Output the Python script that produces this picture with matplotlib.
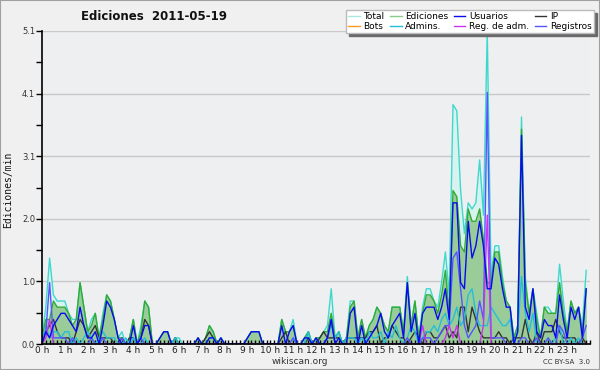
import matplotlib
matplotlib.use('Agg')
import matplotlib.pyplot as plt
import numpy as np
from matplotlib.lines import Line2D
from matplotlib.patches import Rectangle

# ---- data: edits per minute, 10-minute bins, 2011-05-19 ----
total = [0.1, 0.6, 1.4, 0.8, 0.7, 0.7,  0.7, 0.5, 0.4, 0.4, 1.0, 0.6,
         0.2, 0.4, 0.5, 0.1, 0.5, 0.8,  0.7, 0.4, 0.1, 0.2, 0.0, 0.1,
         0.4, 0.0, 0.3, 0.7, 0.6, 0.0,  0.0, 0.1, 0.2, 0.2, 0.0, 0.1,
         0.1, 0.0, 0.0, 0.0, 0.0, 0.1,  0.0, 0.1, 0.3, 0.2, 0.0, 0.1,
         0.0, 0.0, 0.0, 0.0, 0.0, 0.0,  0.1, 0.2, 0.2, 0.2, 0.0, 0.0,
         0.0, 0.0, 0.0, 0.4, 0.2, 0.2,  0.4, 0.0, 0.0, 0.1, 0.2, 0.0,
         0.1, 0.1, 0.2, 0.3, 0.9, 0.1,  0.2, 0.0, 0.1, 0.7, 0.7, 0.1,
         0.4, 0.1, 0.3, 0.4, 0.6, 0.5,  0.3, 0.2, 0.6, 0.6, 0.6, 0.2,
         1.1, 0.3, 0.7, 0.1, 0.6, 0.9,  0.9, 0.7, 0.6, 1.0, 1.5, 0.8,
         3.9, 3.8, 2.5, 1.8, 2.3, 2.2,  2.3, 3.0, 2.1, 5.1, 1.1, 1.6,
         1.6, 1.1, 0.7, 0.6, 0.1, 0.3,  3.7, 1.1, 0.5, 0.9, 0.5, 0.1,
         0.6, 0.6, 0.5, 0.5, 1.3, 0.7,  0.2, 0.7, 0.5, 0.6, 0.3, 1.2]

edits = [0.1, 0.4, 0.4, 0.7, 0.6, 0.6,  0.6, 0.5, 0.3, 0.4, 1.0, 0.6,
         0.2, 0.3, 0.5, 0.1, 0.4, 0.8,  0.7, 0.4, 0.1, 0.1, 0.0, 0.1,
         0.4, 0.0, 0.2, 0.7, 0.6, 0.0,  0.0, 0.1, 0.2, 0.2, 0.0, 0.1,
         0.0, 0.0, 0.0, 0.0, 0.0, 0.1,  0.0, 0.1, 0.3, 0.2, 0.0, 0.1,
         0.0, 0.0, 0.0, 0.0, 0.0, 0.0,  0.1, 0.2, 0.2, 0.2, 0.0, 0.0,
         0.0, 0.0, 0.0, 0.4, 0.2, 0.2,  0.3, 0.0, 0.0, 0.1, 0.2, 0.0,
         0.1, 0.1, 0.2, 0.2, 0.5, 0.1,  0.2, 0.0, 0.1, 0.6, 0.7, 0.1,
         0.4, 0.1, 0.3, 0.4, 0.6, 0.5,  0.3, 0.2, 0.6, 0.6, 0.6, 0.2,
         1.0, 0.3, 0.7, 0.1, 0.5, 0.8,  0.8, 0.7, 0.5, 0.8, 1.2, 0.5,
         2.5, 2.4, 1.6, 1.5, 2.2, 2.0,  2.0, 2.2, 1.7, 1.0, 1.0, 1.5,
         1.5, 1.0, 0.7, 0.6, 0.1, 0.3,  3.5, 1.0, 0.5, 0.9, 0.4, 0.1,
         0.6, 0.5, 0.5, 0.5, 1.0, 0.5,  0.2, 0.7, 0.5, 0.6, 0.2, 0.9]

users = [0.0, 0.2, 0.1, 0.3, 0.4, 0.5,  0.5, 0.4, 0.3, 0.2, 0.6, 0.3,
         0.1, 0.1, 0.2, 0.0, 0.3, 0.7,  0.6, 0.4, 0.1, 0.0, 0.0, 0.0,
         0.3, 0.0, 0.1, 0.3, 0.3, 0.0,  0.0, 0.1, 0.2, 0.2, 0.0, 0.0,
         0.0, 0.0, 0.0, 0.0, 0.0, 0.1,  0.0, 0.0, 0.1, 0.1, 0.0, 0.1,
         0.0, 0.0, 0.0, 0.0, 0.0, 0.0,  0.1, 0.2, 0.2, 0.2, 0.0, 0.0,
         0.0, 0.0, 0.0, 0.3, 0.0, 0.2,  0.3, 0.0, 0.0, 0.1, 0.1, 0.0,
         0.1, 0.0, 0.0, 0.1, 0.4, 0.0,  0.1, 0.0, 0.0, 0.5, 0.6, 0.0,
         0.3, 0.0, 0.1, 0.2, 0.3, 0.5,  0.2, 0.1, 0.3, 0.4, 0.5, 0.1,
         1.0, 0.2, 0.5, 0.0, 0.5, 0.6,  0.6, 0.6, 0.4, 0.6, 0.9, 0.4,
         2.3, 2.3, 1.0, 0.9, 2.0, 1.4,  1.6, 2.0, 1.6, 0.9, 0.9, 1.4,
         1.3, 0.9, 0.6, 0.6, 0.0, 0.2,  3.4, 0.6, 0.4, 0.9, 0.2, 0.1,
         0.4, 0.3, 0.3, 0.1, 0.8, 0.4,  0.1, 0.6, 0.4, 0.6, 0.1, 0.9]

ip = [0.1, 0.2, 0.3, 0.4, 0.2, 0.1,  0.1, 0.1, 0.0, 0.2, 0.4, 0.3,
      0.1, 0.2, 0.3, 0.1, 0.1, 0.1,  0.1, 0.0, 0.0, 0.1, 0.0, 0.1,
      0.1, 0.0, 0.1, 0.4, 0.3, 0.0,  0.0, 0.0, 0.0, 0.0, 0.0, 0.1,
      0.0, 0.0, 0.0, 0.0, 0.0, 0.0,  0.0, 0.1, 0.2, 0.1, 0.0, 0.0,
      0.0, 0.0, 0.0, 0.0, 0.0, 0.0,  0.0, 0.0, 0.0, 0.0, 0.0, 0.0,
      0.0, 0.0, 0.0, 0.1, 0.2, 0.0,  0.0, 0.0, 0.0, 0.0, 0.1, 0.0,
      0.0, 0.1, 0.2, 0.1, 0.1, 0.1,  0.1, 0.0, 0.1, 0.1, 0.1, 0.1,
      0.1, 0.1, 0.2, 0.2, 0.3, 0.0,  0.1, 0.1, 0.3, 0.2, 0.1, 0.1,
      0.0, 0.1, 0.2, 0.1, 0.0, 0.2,  0.2, 0.1, 0.1, 0.2, 0.3, 0.1,
      0.2, 0.1, 0.6, 0.6, 0.2, 0.6,  0.4, 0.2, 0.1, 0.1, 0.1, 0.1,
      0.2, 0.1, 0.1, 0.0, 0.1, 0.1,  0.1, 0.4, 0.1, 0.0, 0.2, 0.0,
      0.2, 0.2, 0.2, 0.4, 0.2, 0.1,  0.1, 0.1, 0.1, 0.0, 0.1, 0.0]

bots = [0.0] * 144

admins = [0.0, 0.3, 0.1, 0.2, 0.2, 0.1,  0.2, 0.2, 0.0, 0.1, 0.0, 0.1,
          0.2, 0.1, 0.0, 0.1, 0.2, 0.1,  0.1, 0.1, 0.0, 0.0, 0.1, 0.0,
          0.1, 0.0, 0.0, 0.1, 0.0, 0.0,  0.0, 0.0, 0.0, 0.0, 0.0, 0.1,
          0.0, 0.0, 0.0, 0.0, 0.0, 0.0,  0.0, 0.0, 0.1, 0.1, 0.0, 0.0,
          0.0, 0.0, 0.0, 0.0, 0.0, 0.0,  0.0, 0.0, 0.0, 0.0, 0.0, 0.0,
          0.0, 0.0, 0.0, 0.0, 0.0, 0.0,  0.1, 0.0, 0.0, 0.0, 0.2, 0.0,
          0.1, 0.0, 0.0, 0.1, 0.3, 0.1,  0.2, 0.0, 0.1, 0.1, 0.1, 0.0,
          0.1, 0.0, 0.2, 0.1, 0.1, 0.2,  0.0, 0.2, 0.1, 0.3, 0.1, 0.0,
          0.1, 0.3, 0.2, 0.0, 0.1, 0.2,  0.2, 0.3, 0.2, 0.4, 0.5, 0.3,
          0.4, 0.6, 0.3, 0.4, 0.8, 0.9,  0.5, 0.3, 0.3, 0.3, 0.6, 0.5,
          0.4, 0.3, 0.3, 0.4, 0.0, 0.2,  1.1, 0.5, 0.2, 0.5, 0.0, 0.0,
          0.0, 0.1, 0.0, 0.1, 0.3, 0.0,  0.0, 0.1, 0.0, 0.1, 0.0, 0.0]

admin_reg = [0.0, 0.1, 0.4, 0.0, 0.0, 0.0] + [0.0] * 90 + \
            [0.0, 0.0, 0.0, 0.0, 0.3, 0.0,  0.0, 0.0, 0.0, 0.0, 0.1, 0.3,
             0.1, 0.3, 0.0, 0.0, 0.0, 0.0,  0.0, 0.0, 0.3, 2.1, 0.0, 0.0] + [0.0] * 24

registrations = [0.0, 0.2, 1.0, 0.1, 0.1, 0.1,  0.1, 0.0, 0.1, 0.0, 0.0, 0.0,
                 0.0, 0.1, 0.0, 0.0, 0.1, 0.0,  0.0, 0.0, 0.0, 0.1, 0.0, 0.0,
                 0.0, 0.0, 0.1, 0.0, 0.0, 0.0,  0.0, 0.0, 0.0, 0.0, 0.0, 0.0,
                 0.0, 0.0, 0.0, 0.0, 0.0, 0.0,  0.0, 0.0, 0.0, 0.0, 0.0, 0.0,
                 0.0, 0.0, 0.0, 0.0, 0.0, 0.0,  0.0, 0.0, 0.0, 0.0, 0.0, 0.0,
                 0.0, 0.0, 0.0, 0.0, 0.0, 0.0,  0.1, 0.0, 0.0, 0.0, 0.0, 0.0,
                 0.0, 0.0, 0.0, 0.1, 0.4, 0.0,  0.0, 0.0, 0.0, 0.0, 0.0, 0.0,
                 0.0, 0.0, 0.0, 0.0, 0.0, 0.0,  0.0, 0.0, 0.0, 0.0, 0.0, 0.0,
                 0.1, 0.0, 0.0, 0.0, 0.1, 0.1,  0.1, 0.0, 0.1, 0.2, 0.3, 0.3,
                 1.4, 1.5, 0.9, 0.3, 0.1, 0.2,  0.3, 0.7, 0.4, 4.1, 0.1, 0.1,
                 0.1, 0.1, 0.0, 0.0, 0.0, 0.0,  0.1, 0.1, 0.0, 0.0, 0.1, 0.0,
                 0.0, 0.1, 0.0, 0.0, 0.3, 0.2,  0.0, 0.0, 0.0, 0.0, 0.1, 0.3]

hour_labels = ["0 h", "1 h", "2 h", "3 h", "4 h", "5 h", "6 h", "7 h",
               "8 h", "9 h", "10 h", "11 h", "12 h", "13 h", "14 h", "15 h",
               "16 h", "17 h", "18 h", "19 h", "20 h", "21 h", "22 h", "23 h"]
y_max = 5.1
ytick_labels = ["0.0", "1.0", "2.0", "3.1", "4.1", "5.1"]

legend_labels = ["Total", "Ediciones", "Usuarios", "IP",
                 "Bots", "Admins.", "Reg. de adm.", "Registros"]

# ---- figure ----
W, H = 600, 370
fig = plt.figure(figsize=(W / 100, H / 100), dpi=100, facecolor='#f0f0f0')
fig.patches.append(Rectangle((0, 0), 1, 1, transform=fig.transFigure,
                             fill=False, edgecolor='#a0a0a0', lw=1.5, zorder=10))

ax = fig.add_axes([42 / W, 1 - 344 / H, 548 / W, 313 / H])
ax.set_facecolor('#eeeff1')
n = len(total)
x = np.arange(n)
ax.set_xlim(0, n)
ax.set_ylim(0, y_max)

c_total = '#40d8cc'
c_edit = '#33aa33'
c_users = '#0a0aee'
c_ip = '#333333'
c_bots = '#ff9922'
c_admins = '#22c0d8'
c_adreg = '#cc33ee'
c_reg = '#5555ff'

ax.fill_between(x, total, color='#d6f3ef', lw=0, zorder=1.0)
ax.fill_between(x, edits, color='#99cc99', lw=0, zorder=1.1)
lw = 1.0
ax.plot(x, bots, color=c_bots, lw=lw, zorder=0.9)
ax.plot(x, total, color=c_total, lw=lw, zorder=2.0)
ax.plot(x, edits, color=c_edit, lw=lw, zorder=2.1)
ax.plot(x, ip, color=c_ip, lw=lw, zorder=2.2)
ax.plot(x, admins, color=c_admins, lw=lw, zorder=2.3)
ax.plot(x, registrations, color=c_reg, lw=lw, zorder=2.4)
ax.plot(x, admin_reg, color=c_adreg, lw=lw, zorder=2.5)
ax.plot(x, users, color=c_users, lw=lw, zorder=2.6)

# y axis
yt = np.linspace(0, y_max, len(ytick_labels))
ax.set_yticks(yt)
ax.set_yticklabels(ytick_labels)
ax.set_yticks(np.linspace(y_max / 10, y_max - y_max / 10, 5), minor=True)
for v in yt[1:]:
    ax.axhline(v, color='#c8c8c8', lw=1.0, zorder=0.5)
ax.tick_params(axis='y', which='both', direction='out', length=4, width=1,
               labelsize=6, pad=1, colors='black', labelcolor='#333333')

# x axis
ax.set_xticks(np.arange(0, n, 6))
ax.set_xticklabels(hour_labels)
ax.set_xticks(np.arange(0, n + 1, 1), minor=True)
ax.tick_params(axis='x', which='both', direction='in', length=3, width=1,
               labelsize=6.5, pad=1.5, labelcolor='#222222')

for s in ['top', 'right']:
    ax.spines[s].set_visible(False)
for s in ['left', 'bottom']:
    ax.spines[s].set_linewidth(1.2)
    ax.spines[s].set_zorder(3)

fig.text(8 / W, 1 - 190 / H, 'Ediciones/min', rotation=90, ha='center',
         va='center', fontsize=7, family='DejaVu Sans Mono', color='#111111')

fig.text(154 / W, 1 - 17 / H, 'Ediciones  2011-05-19', ha='center', va='center',
         fontsize=8.5, fontweight='bold', color='#111111')

fig.text(300 / W, 1 - 362 / H, 'wikiscan.org', ha='center', va='center',
         fontsize=6.5, color='#333333')
fig.text(590 / W, 1 - 362 / H, 'CC BY-SA  3.0', ha='right', va='center',
         fontsize=5, color='#333333')

# legend (column-wise fill -> reorder)
colors = {"Total": '#a8e8e0', "Ediciones": '#88cc88', "Usuarios": c_users,
          "IP": c_ip, "Bots": c_bots, "Admins.": c_admins,
          "Reg. de adm.": c_adreg, "Registros": c_reg}
order = [0, 4, 1, 5, 2, 6, 3, 7]
labs = [legend_labels[i] for i in order]
handles = [Line2D([], [], color=colors[l], lw=1.0) for l in labs]
leg = fig.legend(handles, labs, ncol=4, loc='upper right',
                 bbox_to_anchor=(594 / W, 1 - 10 / H), fontsize=6.5,
                 frameon=True, fancybox=False,
                 shadow={'ox': 2.5, 'oy': -2.5, 'color': '#6a6a6a', 'alpha': 1},
                 handlelength=1.3, columnspacing=0.6, handletextpad=0.4,
                 labelspacing=0.05, borderpad=0.25, borderaxespad=0)
leg.get_frame().set_edgecolor('#bbbbbb')
leg.get_frame().set_facecolor('white')
leg.get_frame().set_alpha(1)

fig.savefig('out.png', dpi=100, facecolor=fig.get_facecolor())
